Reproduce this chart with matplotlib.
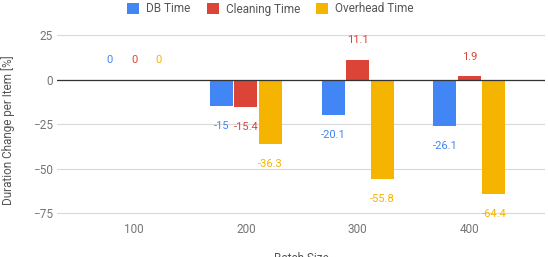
import matplotlib.pyplot as plt
from matplotlib.patches import Patch
import numpy as np

plt.rcParams['font.family'] = ['Roboto', 'DejaVu Sans']

batch_sizes = ['100', '200', '300', '400']
series_names = ['DB Time', 'Cleaning Time', 'Overhead Time']
db_time = [0, -15, -20.1, -26.1]
cleaning_time = [0, -15.4, 11.1, 1.9]
overhead_time = [0, -36.3, -55.8, -64.4]
colors = ['#4285F4', '#DB4437', '#F4B400']

fig = plt.figure(figsize=(5.48, 2.57), dpi=100)
ax = fig.add_axes([0.104, 0.149, 0.8905, 0.784])

x = np.arange(len(batch_sizes))
width = 0.206
step = 0.219
for i, (vals, c) in enumerate(zip([db_time, cleaning_time, overhead_time], colors)):
    xs = x + (i - 1) * step
    ax.bar(xs, vals, width=width, color=c, zorder=3)
    for xi, v in zip(xs, vals):
        off = 14 if v >= 0 else -14
        ax.annotate(f'{v:g}', (xi, v), xytext=(0, off), textcoords='offset points',
                    ha='center', va='center', fontsize=8, color=c, zorder=4)

ax.set_xlim(-0.689, 3.676)
ax.set_ylim(-78, 35)
ax.set_yticks([25, 0, -25, -50, -75])
ax.set_xticks(x)
ax.set_xticklabels(batch_sizes)
ax.grid(axis='y', color='#d9d9d9', linewidth=0.8, zorder=0)
ax.axhline(0, color='#333333', linewidth=0.9, zorder=3.5)
for s in ax.spines.values():
    s.set_visible(False)
ax.tick_params(length=0, labelsize=8.5, labelcolor='#757575')
ax.tick_params(axis='y', pad=3)
ax.tick_params(axis='x', pad=3)

fig.text(8 / 548, 1 - 130 / 257, 'Duration Change per Item [%]', rotation=90,
         ha='center', va='center', fontsize=8.5, color='#555555')
fig.text(301 / 548, 1 - 252 / 257, 'Batch Size', ha='center', va='top',
         fontsize=8.5, color='#555555')

handles = [Patch(facecolor=c, edgecolor='none') for c in colors]
fig.legend(handles, series_names, loc='center', bbox_to_anchor=(270.5 / 548, 1 - 9 / 257),
           ncol=3, frameon=False, fontsize=8.5, labelcolor='#555555',
           handlelength=1.0, handleheight=1.0, handletextpad=0.6, columnspacing=1.4)

fig.savefig('out.png', dpi=100)
